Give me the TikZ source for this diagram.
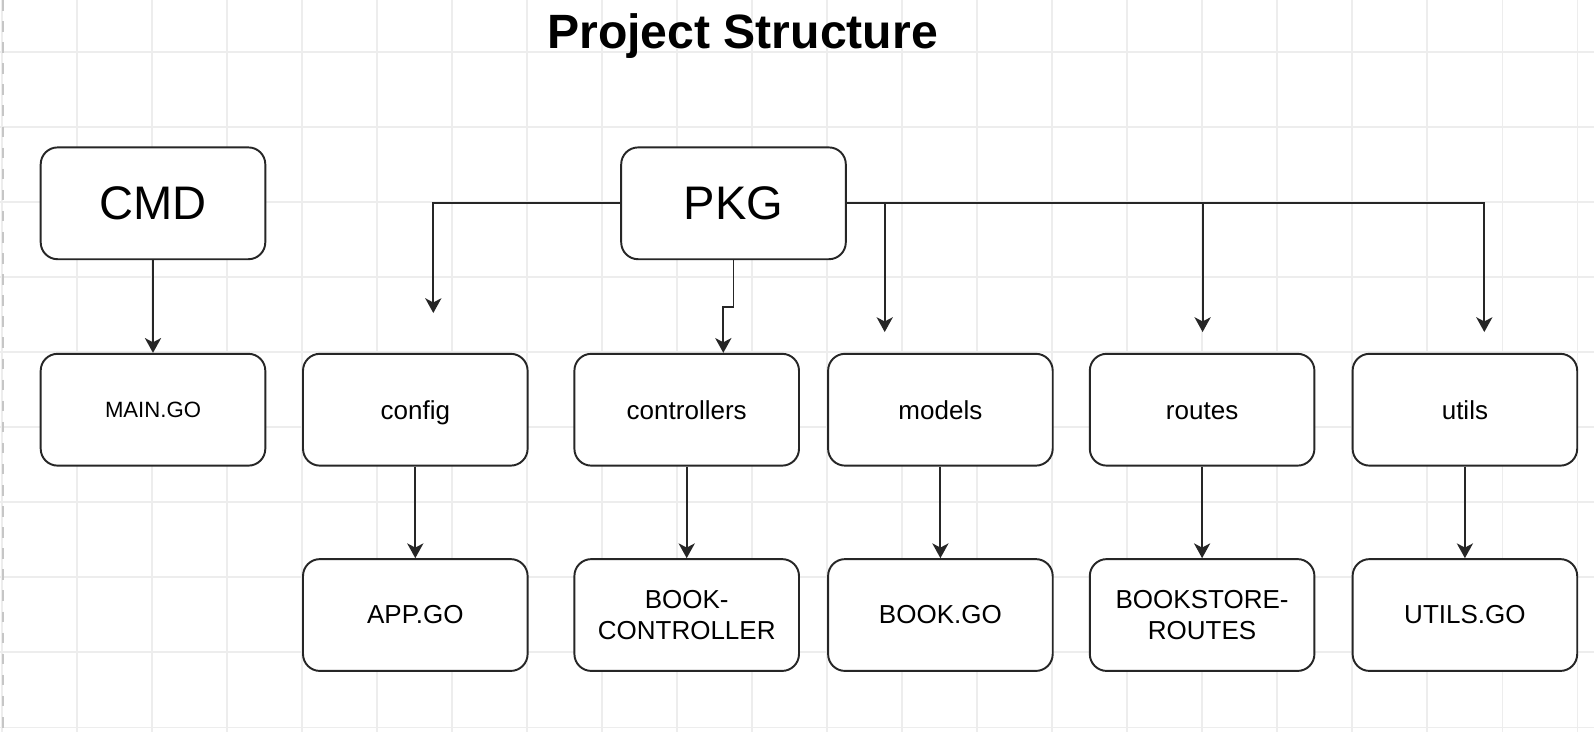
\documentclass[tikz,border=0pt]{standalone}
\usepackage{fontspec}
\setmainfont{Liberation Sans}
\usetikzlibrary{positioning, arrows.meta}

\begin{document}
\begin{tikzpicture}[
  >={Stealth[length=4.2pt, width=4.6pt, inset=1.2pt]},
  gridline/.style={gray!14, line width=0.3pt},
  pkgbox/.style={draw=black!85, line width=0.55pt, rounded corners=4.8pt,
    fill=white, minimum width=2.246cm, minimum height=1.118cm,
    inner sep=0pt, align=center},
  topbox/.style={pkgbox, font=\fontsize{13.4}{15}\selectfont},
  dirbox/.style={pkgbox, font=\fontsize{7.4}{8.6}\selectfont,
    text height=5.4pt, text depth=0pt},
  filebox/.style={pkgbox, font=\fontsize{7.4}{8.6}\selectfont},
  arrow/.style={->, line width=0.55pt, black!85},
]

% ===== background grid =====
\useasboundingbox (0,0) rectangle (15.94,-7.32);
\fill[white] (0,0) rectangle (15.94,-7.32);
\foreach \gx in {0,...,21}
  \draw[gridline] ({0.02+0.75*\gx},0) -- ({0.02+0.75*\gx},-7.32);
\foreach \gy in {0,...,9}
  \draw[gridline] (0,{-0.52-0.75*\gy}) -- (15.94,{-0.52-0.75*\gy});
\draw[gray!45, dashed, line width=0.4pt] (0.03,0) -- (0.03,-7.32);

% ===== title =====
\node[font=\fontsize{13.7}{16}\selectfont\bfseries, anchor=base] (title)
  at (7.425,-0.483) {Project Structure};

% ===== top level =====
\node[topbox] (cmd) at (1.53,-2.033) {CMD};
\node[topbox] (pkg) at (7.335,-2.033) {PKG};

% ===== packages =====
\node[pkgbox, font=\fontsize{6.3}{7.5}\selectfont] (maingo) at (1.53,-4.097) {MAIN.GO};
\node[dirbox] (config) at (4.153,-4.097) {config};
\node[dirbox] (controllers) at (6.867,-4.097) {controllers};
\node[dirbox] (models) at (9.404,-4.097) {models};
\node[dirbox] (routes) at (12.021,-4.097) {routes};
\node[dirbox] (utils) at (14.649,-4.097) {utils};

% ===== files =====
\node[filebox] (appgo) at (4.153,-6.15) {APP.GO};
\node[filebox] (bookctrl) at (6.867,-6.15) {BOOK-\\CONTROLLER};
\node[filebox] (bookgo) at (9.404,-6.15) {BOOK.GO};
\node[filebox] (bsroutes) at (12.021,-6.15) {BOOKSTORE-\\ROUTES};
\node[filebox] (utilsgo) at (14.649,-6.15) {UTILS.GO};

% free ends of the PKG arrows
\coordinate (cfgdrop) at (4.333,-3.13);
\coordinate (mdldrop) at (8.847,-3.32);
\coordinate (rtsdrop) at (12.026,-3.32);
\coordinate (utldrop) at (14.843,-3.32);

% ===== arrows =====
\draw[arrow] (cmd) -- (maingo);
\draw[arrow] (pkg.west) -| (cfgdrop);
\draw[arrow] (pkg.south) -- ++(0,-0.47) -| ([xshift=3.66mm]controllers.north);
\draw[arrow] (pkg.east) -| (utldrop);
\draw[arrow] (pkg.east -| mdldrop) -- (mdldrop);
\draw[arrow] (pkg.east -| rtsdrop) -- (rtsdrop);

\draw[arrow] (config) -- (appgo);
\draw[arrow] (controllers) -- (bookctrl);
\draw[arrow] (models) -- (bookgo);
\draw[arrow] (routes) -- (bsroutes);
\draw[arrow] (utils) -- (utilsgo);

\end{tikzpicture}
\end{document}
